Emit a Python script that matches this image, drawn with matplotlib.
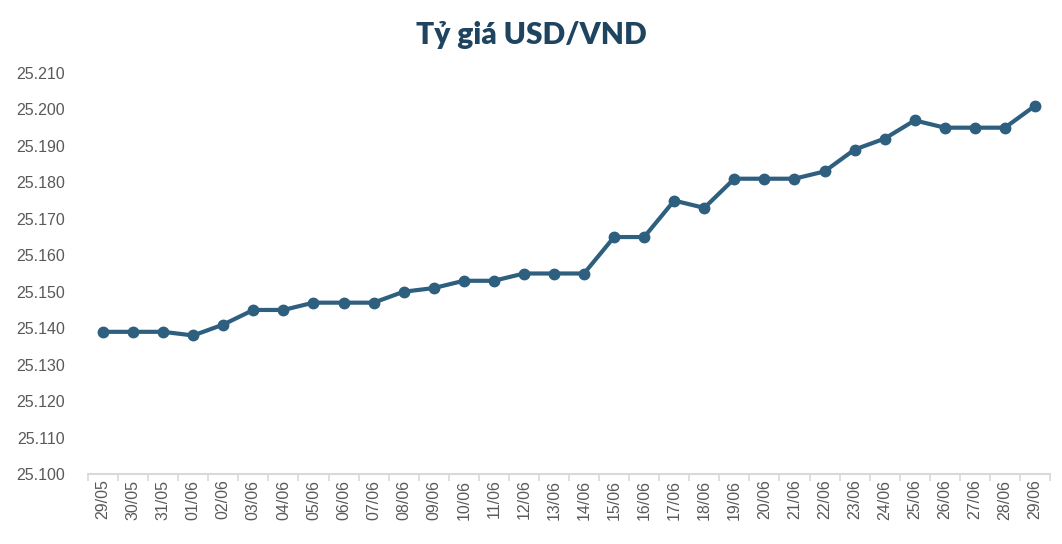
import numpy as np
import matplotlib.pyplot as plt
from matplotlib.ticker import FuncFormatter, FixedLocator

# Data: USD/VND rate
dates = ['29/05', '30/05', '31/05', '01/06', '02/06', '03/06', '04/06', '05/06',
         '06/06', '07/06', '08/06', '09/06', '10/06', '11/06', '12/06', '13/06',
         '14/06', '15/06', '16/06', '17/06', '18/06', '19/06', '20/06', '21/06',
         '22/06', '23/06', '24/06', '25/06', '26/06', '27/06', '28/06', '29/06']
rates = [25139, 25139, 25139, 25138, 25141, 25145, 25145, 25147,
         25147, 25147, 25150, 25151, 25153, 25153, 25155, 25155,
         25155, 25165, 25165, 25175, 25173, 25181, 25181, 25181,
         25183, 25189, 25192, 25197, 25195, 25195, 25195, 25201]
y_ticks = [25100, 25110, 25120, 25130, 25140, 25150, 25160, 25170, 25180, 25190, 25200, 25210]

line_color = '#2E5F7F'
text_gray = '#595959'

fig = plt.figure(figsize=(10.62, 5.44), dpi=100)
ax = fig.add_axes([88 / 1062, 70 / 544, (1050 - 88) / 1062, (474 - 73) / 544])

x = np.arange(len(dates))
ax.plot(x, rates, color=line_color, lw=3, marker='o', ms=7.5,
        markerfacecolor=line_color, markeredgecolor=line_color)

ax.set_xlim(-0.5, len(dates) - 0.5)
ax.set_ylim(y_ticks[0], y_ticks[-1])
ax.set_yticks(y_ticks)
ax.yaxis.set_major_formatter(FuncFormatter(lambda v, p: f'{v / 1000:.3f}'))
ax.tick_params(axis='y', length=0, pad=16.5, labelsize=11.5, labelcolor=text_gray)
for lab in ax.get_yticklabels():
    lab.set_family('Liberation Sans')

ax.set_xticks(x)
ax.set_xticklabels(dates, rotation=90, family='Liberation Sans')
ax.tick_params(axis='x', which='major', length=0, pad=4, labelsize=11.5, labelcolor=text_gray)
ax.xaxis.set_minor_locator(FixedLocator(np.arange(-0.5, len(dates), 1.0)))
ax.tick_params(axis='x', which='minor', length=5, width=1.2, color='#D9D9D9')

for s in ['top', 'right', 'left']:
    ax.spines[s].set_visible(False)
ax.spines['bottom'].set_color('#D9D9D9')
ax.spines['bottom'].set_linewidth(1.5)

fig.text(0.5, 1 - 35 / 544, 'Tỷ giá USD/VND', ha='center', va='center',
         fontsize=21.5, fontweight='heavy', color='#1F4460', family='Lato')

fig.savefig('out.png', dpi=100)
